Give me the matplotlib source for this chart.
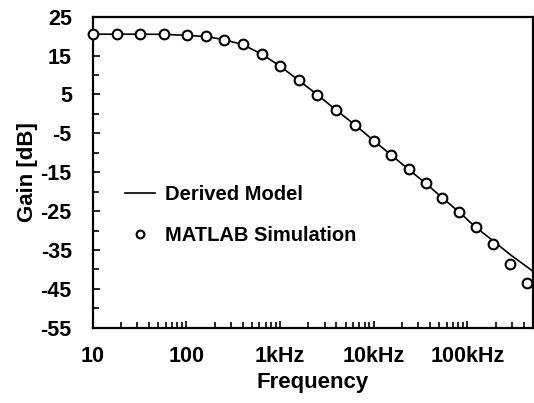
import numpy as np
import matplotlib as mpl
mpl.use('Agg')
import matplotlib.pyplot as plt
from matplotlib.ticker import FixedLocator, NullFormatter

plt.rc('font', family='Liberation Sans', weight='bold')
plt.rc('axes', unicode_minus=False)

# MATLAB simulation points (frequency in Hz, gain in dB)
sim_freq = [10, 18, 32, 57, 101, 160, 253, 400, 634, 1000, 1580, 2500,
            3950, 6370, 10100, 15400, 23600, 36000, 54000, 82000,
            123000, 187000, 286000, 435000]
sim_gain = [20.5, 20.5, 20.5, 20.5, 20.2, 20.0, 19.0, 17.9, 15.4, 12.3,
            8.6, 4.95, 1.0, -2.9, -7.0, -10.6, -14.3, -17.9, -21.6,
            -25.3, -29.2, -33.5, -38.6, -43.4]

# Derived model curve
model_freq = [10, 18, 32, 57, 101, 160, 253, 400, 634, 1000, 1580, 2500,
              3950, 6370, 10100, 15400, 23600, 36000, 54000, 82000,
              123000, 187000, 286000, 435000, 500000]
model_gain = [20.5, 20.5, 20.5, 20.45, 20.2, 19.9, 19.1, 17.8, 15.4, 12.3,
              8.6, 4.95, 1.0, -2.9, -7.0, -10.6, -14.3, -17.9, -21.6,
              -25.3, -29.2, -32.6, -36.2, -39.4, -40.5]

xticks = [10, 100, 1000, 10000, 100000]
xticklabels = ['10', '100', '1kHz', '10kHz', '100kHz']
yticks = [25, 15, 5, -5, -15, -25, -35, -45, -55]

fig = plt.figure(figsize=(5.34, 4.03), dpi=100)
ax = fig.add_axes([0.1736, 0.1868, 0.8244, 0.7718])

ax.plot(model_freq, model_gain, color='black', lw=1.2, label='Derived Model',
        zorder=2)
ax.plot(sim_freq, sim_gain, ls='none', marker='o', ms=7, mfc='white',
        mec='black', mew=1.5, label='MATLAB Simulation', zorder=3,
        clip_on=False)

ax.set_xscale('log')
ax.set_xlim(10, 500000)
ax.set_ylim(-55, 25)
ax.set_xticks(xticks)
ax.set_xticklabels(xticklabels)
ax.xaxis.set_minor_locator(FixedLocator(
    [m * 10.0 ** e for e in range(1, 6) for m in range(2, 10)
     if m * 10.0 ** e <= 500000]))
ax.xaxis.set_minor_formatter(NullFormatter())
ax.set_yticks(yticks)
ax.yaxis.set_minor_locator(FixedLocator(np.arange(-50, 25, 10)))

ax.tick_params(which='both', direction='in', labelsize=15.5, width=1.2)
ax.tick_params(which='major', length=5)
ax.tick_params(which='minor', length=4)
ax.tick_params(axis='x', which='major', pad=13.5)
ax.tick_params(axis='y', which='major', pad=15)
for s in ax.spines.values():
    s.set_linewidth(1.6)

ax.set_xlabel('Frequency', fontsize=16, fontweight='bold', labelpad=3)
ax.set_ylabel('Gain [dB]', fontsize=16, fontweight='bold', labelpad=2)

leg = ax.legend(loc='upper left', bbox_to_anchor=(0.041, 0.504),
                frameon=False, fontsize=14.5, handlelength=1.5,
                handletextpad=0.5, labelspacing=1.1, borderaxespad=0.3,
                markerscale=0.8)

plt.savefig('out.png', dpi=100)
